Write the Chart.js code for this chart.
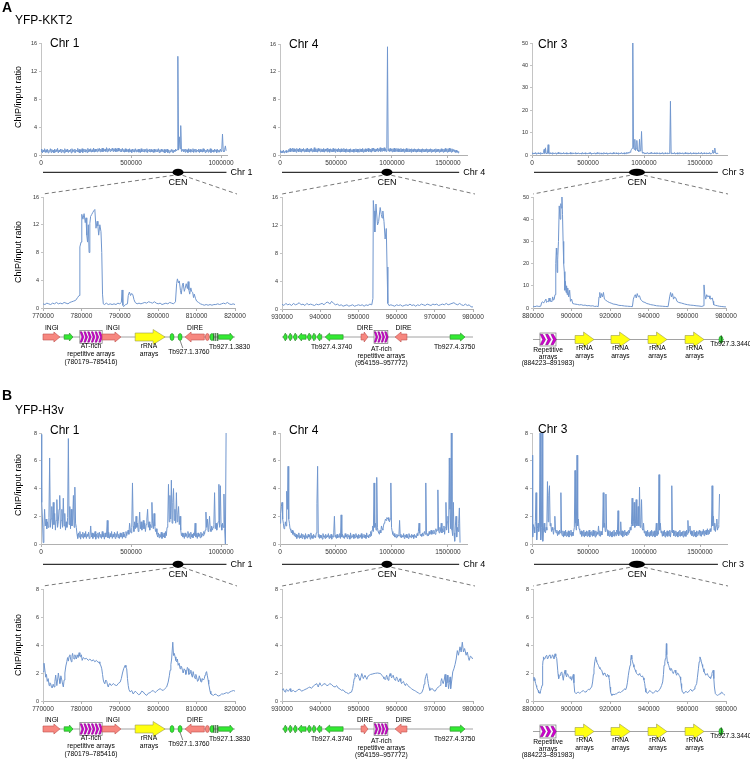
<!DOCTYPE html>
<html><head><meta charset="utf-8">
<script src="https://cdn.jsdelivr.net/npm/chart.js@4.4.1/dist/chart.umd.min.js"></script>
<style>
html,body{margin:0;padding:0;background:#fff;}
#wrap{position:relative;width:750px;height:759px;overflow:hidden;font-family:"Liberation Sans",Arial,sans-serif;color:#000;background:#fff;}
canvas{position:absolute;left:0;top:0;}
.t{position:absolute;white-space:nowrap;line-height:1;}
svg{position:absolute;left:0;top:0;}
</style></head><body><div id="wrap"><svg id="svg" width="750" height="759"></svg></div>
<script>
// ---------------- DATA ----------------
const TICKS_Y16=[0,4,8,12,16];
const TICKS_Y50=[0,10,20,30,40,50];
const TICKS_Y8=[0,2,4,6,8];
const TICKS_CHR1=[0,500000,1000000];
const TICKS_CHR4=[0,500000,1000000,1500000];
const TICKS_CHR3=[0,500000,1000000,1500000];
const TICKS_Z1=[770000,780000,790000,800000,810000,820000];
const TICKS_Z4=[930000,940000,950000,960000,970000,980000];
const TICKS_Z3=[880000,900000,920000,940000,960000,980000];

// genome-wide ChIP/input ratios, one value per bin (bp)
const CHR1_BIN=4000, CHR4_BIN=6000, CHR3_BIN=6000;
const KKT2_CHR1=[0.5,0.85,0.3,0.7,0.45,0.9,0.35,0.75,0.4,0.8,0.3,0.65,0.5,0.9,0.35,0.8,0.45,0.7,0.3,0.85,
0.4,0.75,0.5,0.95,0.3,0.7,0.45,0.85,0.35,0.8,0.5,0.7,0.3,0.9,0.4,0.75,0.45,0.85,0.35,0.7,
0.5,0.8,0.3,0.9,0.45,0.75,0.4,0.85,0.35,0.7,0.5,0.95,0.4,0.8,0.3,0.75,0.45,0.9,0.35,0.8,
0.5,0.85,0.4,0.75,0.35,0.95,0.45,0.8,0.5,0.9,0.4,0.75,0.45,1.0,0.4,0.85,0.5,0.8,0.45,0.9,
0.55,0.95,0.45,0.85,0.5,1.0,0.45,0.9,0.55,0.85,0.5,1.05,0.45,0.9,0.55,0.95,0.5,0.85,0.6,1.0,
0.5,0.9,0.55,0.95,0.45,0.85,0.5,1.0,0.55,0.9,0.5,0.85,0.45,0.95,0.5,0.8,0.4,0.9,0.45,0.85,
0.5,0.8,0.4,0.9,0.45,0.75,0.35,0.85,0.5,0.8,0.4,0.9,0.45,0.75,0.5,0.85,0.4,0.8,0.35,0.9,
0.45,0.75,0.5,0.85,0.4,0.8,0.45,0.9,0.35,0.75,0.5,0.85,0.4,0.8,0.45,0.7,0.35,0.85,0.4,0.75,
0.5,0.8,0.45,0.9,0.35,0.75,0.4,0.85,0.5,0.7,0.4,0.8,0.3,0.75,0.45,0.85,0.35,0.7,0.3,0.65,
0.45,0.8,0.4,0.75,0.35,0.7,0.5,0.85,0.6,0.75,14.1,0.7,2.6,0.9,4.2,0.5,0.6,0.85,0.45,0.8,
0.4,0.85,0.5,0.75,0.35,0.9,0.45,0.8,0.4,0.75,0.5,0.9,0.35,0.8,0.45,0.85,0.4,0.7,0.5,0.85,
0.35,0.8,0.45,0.75,0.4,0.9,0.5,0.8,0.35,0.7,0.45,0.85,0.4,0.75,0.5,0.9,0.35,0.8,0.45,0.7,
0.4,0.85,0.5,0.75,0.35,0.8,0.45,0.7,0.4,0.85,0.5,0.75,3.0,0.6,0.45,0.8,1.3,0.6];
const KKT2_CHR4=[0.4,0.65,0.3,0.55,0.35,0.7,0.3,0.5,0.4,0.65,0.35,0.6,0.45,0.8,0.5,0.95,0.45,0.85,0.55,1.0,
0.45,0.9,0.5,0.8,0.4,0.95,0.55,0.85,0.45,1.0,0.5,0.9,0.4,0.85,0.55,0.95,0.45,0.8,0.5,0.9,
0.45,1.0,0.5,0.85,0.4,0.9,0.55,0.95,0.45,0.8,0.5,1.05,0.45,0.85,0.5,0.9,0.4,0.95,0.55,0.85,
0.45,0.9,0.5,0.8,0.45,0.95,0.4,0.85,0.55,0.9,0.45,1.0,0.5,0.85,0.4,0.9,0.5,0.8,0.45,0.95,
0.5,0.85,0.4,0.9,0.55,0.8,0.45,0.95,0.5,0.85,0.4,0.9,0.45,0.8,0.5,0.95,0.45,0.85,0.4,0.9,
0.5,0.8,0.45,0.85,0.4,0.9,0.5,0.75,0.45,0.85,0.4,0.8,0.5,0.9,0.45,0.85,0.4,0.8,0.45,0.9,
0.5,0.85,0.45,0.95,0.4,0.8,0.5,0.9,0.45,0.85,0.55,0.95,0.45,0.9,0.5,0.85,0.4,0.95,0.55,1.0,
0.5,0.9,0.45,0.85,0.55,1.0,0.5,0.9,0.6,1.05,0.5,0.95,0.55,1.0,0.6,1.05,0.55,0.9,0.5,0.95,
15.6,0.6,0.9,0.5,0.95,0.55,0.85,0.45,0.9,0.5,1.0,0.45,0.85,0.55,0.95,0.5,0.9,0.45,0.85,0.5,
0.95,0.45,0.85,0.5,0.9,0.4,0.85,0.5,0.95,0.45,0.8,0.5,0.9,0.45,0.85,0.4,0.9,0.5,0.8,0.45,
0.9,0.5,0.85,0.4,0.8,0.45,0.9,0.5,0.85,0.45,0.8,0.4,0.9,0.5,0.85,0.45,0.8,0.5,0.9,0.4,
0.85,0.45,0.8,0.5,0.9,0.4,0.85,0.45,0.75,0.5,0.85,0.4,0.9,0.45,0.8,0.5,0.85,0.4,0.8,0.45,
0.9,0.5,0.8,0.4,0.85,0.45,0.95,0.5,0.8,0.4,0.9,0.45,1.0,0.5,0.85,0.4,0.9,0.45,0.8,0.5,
0.75,0.35,0.7,0.4,0.6,0.3,0.55];
const KKT2_CHR3=[0.6,1.0,0.4,0.9,0.5,1.1,0.4,0.8,0.6,1.0,0.5,0.9,0.4,1.1,0.6,0.8,0.5,1.0,2.5,0.7,
3.2,0.8,0.5,0.9,4.6,0.7,0.5,1.0,0.6,0.9,0.4,1.1,0.5,0.8,0.6,1.0,0.4,0.9,0.6,1.2,
0.5,0.9,0.6,1.0,0.4,0.8,0.5,1.1,0.6,0.9,0.5,1.0,0.4,0.9,0.6,0.8,0.5,1.1,0.4,0.9,
0.6,1.0,0.5,0.8,0.6,1.1,0.4,0.9,0.5,1.0,0.6,0.8,0.5,0.9,0.4,1.1,0.6,0.9,0.5,1.0,
0.4,0.9,0.6,0.8,0.5,1.0,0.6,1.1,0.4,0.9,0.5,0.8,0.6,1.0,0.5,0.9,0.4,1.1,0.6,0.8,
0.5,1.0,0.6,0.9,0.4,0.8,0.5,1.1,0.6,0.9,0.5,1.0,0.4,0.9,0.6,0.8,0.5,1.0,0.6,0.9,
0.4,1.1,0.5,0.8,0.6,1.0,0.5,0.9,0.4,1.0,0.6,0.8,0.5,1.1,0.6,0.9,0.5,1.0,0.4,0.8,
0.6,1.2,0.7,1.1,0.8,1.3,1.2,1.8,2.5,3.0,50,3.5,2.5,7.0,2.0,2.8,6.5,1.8,2.2,1.5,
7.0,1.8,2.0,10.5,1.2,0.8,1.1,0.6,1.0,0.5,0.9,0.7,1.1,0.6,0.9,0.5,1.0,0.6,1.2,0.7,
0.9,0.6,1.0,0.5,0.9,0.6,1.1,0.5,0.8,0.6,1.0,0.4,0.9,0.6,1.1,0.5,0.8,0.6,1.0,0.5,
0.9,0.6,1.0,0.5,0.8,0.7,24,0.6,1.0,0.5,0.9,0.6,1.1,0.5,0.9,0.6,1.0,0.4,0.8,0.6,
1.1,0.5,0.9,0.6,1.0,0.5,0.8,0.6,1.1,0.5,0.9,0.6,1.0,0.4,0.9,0.6,1.1,0.5,0.8,0.6,
1.0,0.5,0.9,0.6,1.0,0.4,0.9,0.6,1.1,0.5,0.8,0.6,1.2,0.5,0.9,0.6,1.0,0.5,0.9,0.6,
1.0,0.5,0.9,0.6,1.1,0.5,0.8,0.6,1.0,2.2,0.7,1.2,3.1,0.8,0.9,0.6,0.8,0.5];
const H3V_CHR1=[7.9,3.0,1.8,0.1,1.2,2.5,1.3,1.8,1.1,1.6,1.2,1.9,6.2,1.2,1.8,2.7,1.1,3.0,1.4,2.2,
1.0,1.7,3.2,1.2,1.6,2.5,3.5,1.1,1.7,2.5,1.2,3.3,1.3,2.2,1.0,1.6,1.2,1.9,7.6,1.4,
2.7,1.1,2.5,1.3,1.8,3.5,1.2,4.1,1.5,1.2,0.7,0.4,0.8,0.5,0.9,0.35,0.7,0.5,0.85,0.4,
0.75,0.5,0.9,0.4,0.7,0.55,0.85,0.4,0.6,1.3,0.5,0.8,0.4,0.75,0.5,0.9,0.35,0.7,0.5,0.8,
0.4,0.85,0.5,0.7,0.4,0.9,0.5,0.75,0.35,0.8,0.5,0.7,1.7,0.45,0.85,0.4,0.75,0.5,0.9,0.4,
0.7,0.5,0.85,0.4,0.75,0.5,0.9,0.45,0.7,0.4,0.8,0.5,0.75,0.4,0.85,0.5,0.7,0.45,0.9,0.6,
0.8,1.0,0.7,1.5,1.0,0.8,1.2,4.4,1.3,0.9,1.6,1.1,2.0,1.2,1.5,0.9,1.4,2.3,1.1,1.6,
1.0,1.3,1.7,1.1,1.5,0.9,1.4,1.8,2.5,1.2,1.6,1.0,1.4,1.2,3.0,1.5,1.1,2.2,1.3,0.9,
1.1,0.7,0.5,0.8,0.45,0.7,0.5,0.85,0.4,0.75,0.5,0.8,0.45,0.9,0.6,1.2,1.5,4.3,1.6,3.5,
1.8,4.6,1.5,3.0,4.0,1.7,2.5,1.5,3.7,1.6,2.1,2.7,1.4,2.0,1.0,0.6,0.8,0.5,0.75,0.4,
0.8,0.55,0.7,0.45,0.9,0.5,0.75,0.4,0.85,0.5,0.7,0.45,0.8,0.6,1.5,0.5,0.75,0.4,0.8,0.55,
0.7,0.45,0.85,0.5,0.75,0.6,0.9,0.7,1.0,2.3,1.2,1.8,0.9,1.3,2.0,1.1,0.9,1.3,1.0,1.2,
1.4,3.7,1.1,1.5,1.0,1.3,1.6,4.3,1.2,4.2,1.4,1.0,1.5,1.2,3.6,1.1,0.0,8.0];
const H3V_CHR4=[1.5,2.2,2.7,3.0,1.8,1.5,1.1,1.2,1.6,1.3,3.8,2.5,5.6,1.8,1.5,1.1,1.0,0.8,1.0,0.7,
0.9,0.6,0.8,0.5,0.7,0.4,0.65,0.5,0.8,0.4,0.6,0.45,0.75,0.4,0.7,0.5,0.6,0.35,0.75,0.45,
0.6,0.4,0.7,0.5,0.65,0.35,0.8,0.45,0.6,0.4,0.7,0.5,0.6,0.45,0.8,2.9,5.6,0.5,0.7,0.4,
0.65,0.45,0.6,0.35,0.75,0.5,0.6,0.4,0.7,0.45,0.6,0.5,0.75,0.4,0.6,0.45,0.7,0.35,0.6,0.5,
0.8,2.0,0.5,0.65,0.4,0.7,0.45,0.6,0.5,0.75,0.4,2.1,0.5,0.7,0.45,0.6,0.4,0.75,0.5,0.65,
0.4,0.7,0.5,0.6,0.35,0.8,0.45,0.6,0.5,0.7,0.4,0.65,0.45,0.75,0.5,0.6,0.4,0.7,0.45,0.65,
0.5,0.75,0.4,0.6,0.5,0.7,0.45,0.65,0.4,0.8,0.5,0.6,0.45,0.7,0.55,0.9,0.6,1.0,1.3,0.9,
4.4,1.2,1.5,1.0,4.8,1.2,0.9,0.8,0.7,1.0,0.8,1.3,1.1,1.0,1.3,1.5,1.6,1.8,1.7,1.9,
1.8,1.9,1.7,1.6,1.8,4.4,1.2,0.9,0.7,0.6,0.75,0.5,0.6,0.45,0.7,0.5,0.65,0.6,1.7,0.5,
0.7,0.45,0.6,0.5,0.75,0.4,0.65,0.5,0.7,0.45,0.6,0.4,0.75,0.5,0.6,0.45,0.7,0.5,0.65,0.4,
0.7,0.5,0.6,0.45,0.75,0.6,0.9,1.5,0.8,0.6,0.7,0.55,0.8,0.6,0.75,0.9,0.7,4.4,0.8,0.6,
0.75,0.6,0.9,0.7,0.8,1.0,0.7,0.9,0.75,1.0,0.8,0.7,1.1,0.9,1.0,3.9,1.0,0.8,1.2,0.9,
1.5,0.8,1.1,0.9,1.3,0.7,1.2,3.0,1.0,1.6,2.0,0.8,6.2,2.5,1.1,8.0,1.0,0.6,3.0,0.8,
0.2,1.3,2.0,0.5,1.2,0.9,1.5,2.6,0.1];
const H3V_CHR3=[6.4,0.5,1.4,1.2,0.8,1.6,3.7,0.3,1.1,1.5,0.9,1.3,8.0,0.3,1.2,8.0,0.2,1.0,1.5,0.9,
0.8,1.2,1.0,4.5,1.6,3.5,4.2,1.3,1.5,0.9,1.2,1.0,0.7,1.1,2.0,0.9,0.8,1.0,0.6,0.9,
0.7,1.0,0.8,3.7,0.8,0.6,0.95,0.5,0.9,0.6,1.0,0.55,0.85,0.6,0.95,0.5,0.9,0.65,1.0,0.55,
0.85,0.6,0.9,1.2,5.3,1.5,1.0,6.4,1.3,1.8,1.1,1.0,0.7,0.95,0.55,0.9,0.6,1.0,0.5,0.85,
0.6,0.95,0.55,0.9,0.6,1.0,0.5,0.85,0.65,0.9,0.55,1.0,0.6,0.9,0.5,0.95,0.6,0.85,0.7,1.3,
0.6,0.95,0.55,0.9,0.65,1.0,3.7,1.2,1.5,0.9,3.6,1.1,1.0,0.6,0.9,0.55,0.95,0.6,0.85,0.5,
0.9,0.6,1.0,0.55,0.85,0.6,1.0,0.7,2.4,0.6,0.9,0.7,1.6,0.6,0.95,0.5,0.9,0.6,1.0,0.65,
0.85,0.6,0.9,0.7,1.0,0.8,1.2,1.0,1.4,3.3,1.3,1.6,3.0,1.2,1.5,3.2,1.3,1.4,2.7,1.3,
4.1,1.2,1.4,3.2,1.1,1.0,1.5,0.8,0.95,0.6,0.9,0.55,1.0,0.6,0.85,0.5,0.9,0.6,1.0,0.55,
0.9,0.6,0.95,0.5,0.85,1.5,0.6,0.9,0.7,5.0,1.0,1.5,0.8,0.95,0.55,0.9,0.6,1.0,0.5,0.85,
0.6,0.95,0.55,0.9,0.6,1.0,0.5,0.9,4.2,0.8,1.0,0.6,0.9,0.55,0.95,0.6,0.85,0.5,0.9,0.6,
1.0,0.55,0.85,0.6,0.9,0.5,0.95,0.6,0.9,0.55,1.0,0.7,1.7,0.8,1.0,1.3,0.7,0.95,0.6,0.9,
0.55,1.0,0.6,0.85,0.5,0.95,0.6,0.9,0.7,1.0,0.6,0.95,0.55,0.9,0.7,1.05,0.6,0.95,0.7,1.0,
0.65,1.1,0.7,1.0,0.75,1.1,0.9,1.2,4.2,1.3,2.0,1.0,1.5,0.9,1.3,1.8,1.0,1.2,1.4,3.6];

// centromere close-ups: [position (kb), ratio]
const KKT2_CHR1_CEN=[[770.0,0.6],[770.5,0.5],[771.0,0.7],[771.5,0.6],[772.0,0.5],[772.5,0.7],[773.0,0.6],[773.5,0.8],[774.0,0.6],[774.5,0.7],[775.0,0.6],[775.5,0.8],[776.0,0.7],[776.5,0.6],[777.0,0.8],[777.5,0.9],[778.0,1.0],[778.5,1.1],[779.0,1.5],[779.4,1.8],[779.6,8.8],[779.9,9.5],[780.1,13.5],[780.4,12.8],[780.7,13.6],[781.0,12.3],[781.2,13.0],[781.4,10.5],[781.6,9.5],[781.8,12.0],[782.0,8.0],[782.2,12.2],[782.4,13.2],[782.7,13.5],[783.0,13.8],[783.2,14.0],[783.5,14.2],[783.8,11.5],[784.1,12.5],[784.3,11.8],[784.5,10.5],[784.8,12.0],[785.1,11.0],[785.3,8.0],[785.5,2.0],[785.7,0.6],[786.0,0.5],[786.5,0.7],[787.0,0.5],[787.5,0.6],[788.0,0.5],[788.5,0.6],[789.0,0.5],[789.5,0.7],[790.0,0.6],[790.4,0.8],[790.6,2.6],[790.8,0.4],[791.0,0.2],[791.5,0.5],[792.0,0.6],[792.2,1.8],[792.5,2.3],[792.8,1.8],[793.1,2.1],[793.4,1.9],[793.7,1.2],[794.0,0.8],[794.5,0.6],[795.0,0.7],[795.5,0.6],[796.0,0.7],[796.5,0.8],[797.0,0.7],[797.5,0.9],[798.0,0.8],[798.5,0.7],[799.0,0.9],[799.5,0.7],[800.0,0.6],[800.5,0.7],[801.0,0.5],[801.5,0.6],[802.0,0.7],[802.5,0.6],[803.0,0.8],[803.5,0.7],[804.0,0.6],[804.5,0.9],[804.8,3.5],[805.0,4.2],[805.3,3.6],[805.5,3.9],[805.8,2.5],[806.0,2.0],[806.3,3.3],[806.5,3.6],[806.8,2.4],[807.0,2.8],[807.3,3.5],[807.6,2.8],[807.8,3.8],[808.0,2.6],[808.2,2.0],[808.5,2.9],[808.7,2.4],[809.0,2.2],[809.2,1.5],[809.4,2.0],[809.7,1.4],[810.0,1.0],[810.5,0.8],[811.0,0.6],[811.5,0.5],[812.0,0.4],[812.5,0.5],[813.0,0.4],[813.5,0.5],[814.0,0.4],[814.5,0.5],[815.0,0.5],[815.5,0.6],[816.0,0.5],[816.5,0.6],[817.0,0.7],[817.5,0.6],[818.0,0.8],[818.5,0.6],[819.0,0.5],[819.5,0.6],[820.0,0.5]];
const KKT2_CHR4_CEN=[[930.0,0.7],[930.5,0.5],[931.0,0.8],[931.5,0.6],[932.0,0.7],[932.5,0.5],[933.0,0.8],[933.5,0.6],[934.0,0.7],[934.5,0.9],[935.0,0.6],[935.5,0.7],[936.0,0.5],[936.5,0.8],[937.0,0.6],[937.5,0.7],[938.0,0.6],[938.5,0.5],[939.0,0.7],[939.5,0.6],[940.0,0.7],[940.5,0.8],[941.0,0.6],[941.5,0.9],[942.0,1.0],[942.5,0.7],[943.0,1.1],[943.5,0.8],[944.0,0.6],[944.5,0.7],[945.0,0.5],[945.5,0.6],[946.0,0.4],[946.5,0.5],[947.0,0.6],[947.5,0.4],[948.0,0.5],[948.5,0.6],[949.0,0.4],[949.5,0.5],[950.0,0.6],[950.5,0.5],[951.0,0.6],[951.5,0.4],[952.0,0.6],[952.5,0.5],[953.0,0.7],[953.5,0.6],[953.8,1.5],[953.9,15.5],[954.1,14.0],[954.3,11.0],[954.6,15.0],[955.0,12.0],[955.3,12.5],[955.7,14.5],[956.0,13.5],[956.2,13.0],[956.4,14.0],[956.7,12.5],[957.0,10.0],[957.3,11.5],[957.5,6.0],[957.7,0.8],[958.0,0.5],[958.5,0.6],[959.0,0.5],[959.5,0.4],[960.0,0.6],[960.5,0.5],[961.0,0.6],[961.5,0.4],[962.0,0.5],[962.5,0.6],[963.0,0.5],[963.5,0.7],[964.0,0.5],[964.5,0.6],[965.0,0.4],[965.5,0.6],[966.0,0.5],[966.5,0.7],[967.0,0.6],[967.5,0.5],[968.0,0.7],[968.5,0.6],[969.0,0.5],[969.5,0.7],[970.0,0.6],[970.5,0.7],[971.0,0.5],[971.5,0.6],[972.0,0.7],[972.5,0.6],[973.0,0.8],[973.5,0.6],[974.0,0.7],[974.5,0.8],[975.0,0.9],[975.5,0.7],[976.0,0.6],[976.5,0.8],[977.0,0.6],[977.5,0.5],[978.0,0.7],[978.5,0.5],[979.0,0.6],[979.5,0.3],[980.0,0.3]];
const KKT2_CHR3_CEN=[[880,0.8],[881,0.6],[882,0.9],[883,0.7],[884,0.8],[884.5,2.5],[885,2.8],[885.5,2.2],[886,3.0],[886.7,4.0],[887,2.5],[887.5,3.0],[888,2.8],[888.3,4.5],[888.8,3.0],[889.3,3.2],[889.8,2.8],[890.2,5.0],[890.6,3.5],[891,4.0],[891.4,6.0],[891.8,20],[892.1,27],[892.3,24],[892.5,16],[892.8,22],[893.2,30],[893.6,46],[894,40],[894.4,47],[894.7,45],[895,50],[895.3,42],[895.6,30],[895.9,20],[896.2,16.4],[896.5,8],[896.8,12],[897.1,7],[897.4,10],[897.7,6],[898,9],[898.5,5],[899,8],[899.4,3],[900,4],[900.6,2],[901.5,1.8],[903,1.6],[904,1.4],[905,1.5],[906,1.2],[907,1.3],[908,1.0],[909,1.1],[910,0.9],[911,1.0],[912,0.7],[913,0.8],[913.8,0.6],[914.2,5.0],[914.6,7.0],[915,4.5],[915.5,6.5],[916,5.0],[916.5,7.0],[917,4.0],[917.7,3.5],[918.5,3.0],[919.5,2.5],[920.5,2.2],[921.5,1.8],[923,1.6],[924.5,1.2],[926,1.1],[927.5,0.9],[929,0.8],[930.5,0.7],[931.5,0.6],[932,4.0],[932.5,5.2],[933,6.0],[933.5,4.5],[934,6.5],[934.6,5.0],[935.2,5.5],[935.7,4.0],[936.1,3.5],[937,2.8],[938,2.5],[939,2.0],[940,1.8],[941,1.5],[942.5,1.3],[944,1.0],[945.5,0.9],[947,0.8],[948.5,0.7],[950,0.6],[950.8,5.0],[951.3,7.0],[951.8,5.0],[952.3,6.5],[952.8,4.0],[953.4,5.0],[954,4.5],[954.6,3.0],[955.5,2.5],[957,2.2],[958.5,1.8],[960,1.5],[961.5,1.3],[963,1.2],[964.5,1.0],[966,0.9],[967.5,0.7],[968.3,1.0],[968.6,10.4],[969.0,6.0],[969.5,4.0],[970,6.0],[970.6,5.0],[971.2,5.5],[971.7,4.2],[972.2,4.0],[972.9,4.5],[973.3,3.0],[973.6,1.5],[974.5,1.2],[975.5,1.0],[976.5,0.8],[977.5,0.7],[978.5,0.6],[979.5,0.5],[980,0.5]];
const H3V_CHR1_CEN=[[770.0,2.1],[770.26,2.7],[770.5,2.2],[770.7,1.7],[770.9,1.9],[771.1,1.4],[771.35,1.6],[771.6,1.1],[771.8,1.3],[772.0,1.25],[772.2,1.0],[772.4,0.93],[772.65,1.2],[772.9,1.0],[773.1,1.4],[773.3,1.85],[773.6,1.1],[773.8,1.5],[774.0,2.0],[774.2,1.6],[774.4,1.25],[774.65,1.8],[774.9,1.5],[775.1,1.2],[775.3,1.0],[775.5,1.5],[775.7,2.0],[775.95,2.5],[776.2,2.8],[776.4,3.1],[776.6,2.85],[776.8,3.2],[777.0,3.3],[777.2,3.0],[777.4,2.8],[777.55,3.2],[777.7,3.4],[777.9,3.1],[778.1,3.0],[778.3,3.3],[778.5,3.15],[778.7,3.0],[778.9,3.3],[779.15,3.1],[779.4,3.45],[779.6,3.2],[779.8,3.15],[780.0,3.3],[780.2,2.9],[780.5,3.1],[780.9,3.0],[781.3,3.05],[781.8,2.9],[782.2,3.0],[782.7,2.85],[783.1,2.95],[783.5,2.8],[783.9,2.9],[784.4,2.75],[784.6,2.8],[784.8,2.67],[785.1,2.5],[785.3,2.3],[785.5,1.9],[785.7,1.5],[785.9,1.3],[786.1,1.25],[786.35,1.5],[786.6,1.4],[786.8,1.15],[787.0,1.0],[787.2,1.2],[787.4,1.25],[787.8,1.1],[788.3,1.25],[788.7,1.15],[789.2,1.1],[789.6,1.25],[790.1,1.35],[790.4,1.6],[790.7,2.0],[791.0,2.3],[791.4,2.55],[791.6,2.4],[791.8,2.3],[792.0,1.6],[792.2,1.1],[792.4,0.8],[792.7,0.65],[793.1,0.75],[793.5,0.5],[794.0,0.7],[794.4,0.6],[794.9,0.45],[795.3,0.5],[795.7,0.7],[796.1,0.65],[796.5,0.5],[797.0,0.4],[797.4,0.55],[797.9,0.6],[798.3,0.7],[798.7,0.75],[799.2,0.6],[799.6,0.7],[800.0,0.8],[800.5,0.88],[800.9,0.8],[801.3,0.75],[801.8,0.9],[802.2,1.0],[802.6,1.35],[802.9,1.8],[803.1,2.2],[803.3,2.6],[803.5,3.0],[803.8,4.2],[804.0,3.25],[804.2,3.4],[804.4,3.15],[804.6,2.9],[804.8,2.8],[805.0,3.0],[805.2,2.55],[805.45,2.7],[805.7,2.3],[805.9,2.5],[806.1,2.45],[806.3,2.2],[806.5,2.0],[806.75,2.3],[807.0,2.2],[807.2,1.9],[807.4,2.1],[807.6,2.4],[807.8,2.3],[808.0,1.9],[808.3,2.0],[808.5,2.2],[808.7,1.85],[808.9,1.7],[809.1,2.1],[809.35,1.8],[809.6,1.6],[809.8,1.9],[810.0,1.7],[810.25,1.4],[810.5,1.5],[810.7,1.8],[810.9,1.6],[811.1,1.4],[811.3,1.35],[811.55,1.6],[811.8,1.5],[812.0,1.6],[812.2,1.85],[812.4,2.0],[812.6,2.1],[812.8,1.8],[813.0,1.5],[813.15,1.2],[813.3,1.0],[813.5,0.7],[813.7,0.5],[814.0,0.45],[814.4,0.4],[814.8,0.5],[815.2,0.45],[815.6,0.35],[816.1,0.4],[816.5,0.5],[817.0,0.5],[817.4,0.55],[817.8,0.6],[818.2,0.55],[818.7,0.65],[819.1,0.7],[819.6,0.75],[820.0,0.7]];
const H3V_CHR4_CEN=[[930.0,0.76],[930.35,0.88],[930.6,0.7],[930.8,0.64],[931.0,0.8],[931.2,0.84],[931.45,0.72],[931.7,0.7],[931.9,0.8],[932.1,0.88],[932.3,0.7],[932.5,0.64],[932.75,0.75],[933.0,0.76],[933.4,0.65],[933.8,0.7],[934.2,0.82],[934.7,0.84],[935.1,0.7],[935.6,0.76],[936.0,0.82],[936.5,0.88],[936.9,0.95],[937.3,1.0],[937.7,0.9],[938.2,1.07],[938.6,1.15],[939.1,1.24],[939.3,1.1],[939.5,1.0],[939.7,1.2],[939.9,1.3],[940.1,1.15],[940.4,1.07],[940.8,1.2],[941.3,1.24],[941.7,1.1],[942.1,1.12],[942.5,1.25],[943.0,1.17],[943.4,1.05],[943.9,1.0],[944.3,1.1],[944.7,0.93],[945.2,0.85],[945.6,0.76],[946.0,0.8],[946.5,0.64],[946.9,0.6],[947.4,0.52],[947.8,0.6],[948.2,0.64],[948.5,0.9],[948.7,1.24],[948.9,1.6],[949.1,1.96],[949.3,1.8],[949.5,1.72],[949.75,1.9],[950.0,1.84],[950.2,1.6],[950.4,1.48],[950.65,1.7],[950.9,1.96],[951.1,1.75],[951.3,1.6],[951.5,1.75],[951.7,1.84],[951.95,1.7],[952.2,1.55],[952.4,1.7],[952.6,1.8],[952.9,1.85],[953.2,1.9],[953.6,1.92],[954.1,1.96],[954.5,1.98],[955.0,2.0],[955.4,1.98],[955.8,1.96],[956.1,1.85],[956.5,1.72],[956.7,1.6],[957.0,1.55],[957.2,1.7],[957.4,1.84],[957.6,1.65],[957.8,1.48],[958.0,1.7],[958.3,1.96],[958.5,1.8],[958.7,1.65],[958.9,1.75],[959.1,1.84],[959.35,1.6],[959.6,1.48],[959.8,1.6],[960.0,1.72],[960.25,1.55],[960.5,1.36],[960.7,1.5],[960.9,1.6],[961.1,1.4],[961.3,1.24],[961.55,1.35],[961.8,1.4],[962.0,1.25],[962.2,1.12],[962.4,1.2],[962.6,1.24],[963.0,1.1],[963.3,1.0],[963.6,0.95],[963.9,0.88],[964.3,0.8],[964.6,0.76],[965.0,0.7],[965.3,0.64],[965.7,0.58],[966.0,0.52],[966.3,0.55],[966.6,0.6],[967.0,0.88],[967.2,1.2],[967.4,1.48],[967.6,1.75],[967.9,1.96],[968.1,1.6],[968.3,1.24],[968.5,0.95],[968.7,0.76],[969.0,0.85],[969.4,0.88],[969.7,0.75],[970.1,0.7],[970.5,0.88],[970.9,1.0],[971.2,1.05],[971.4,1.12],[971.6,1.4],[971.8,1.6],[972.0,1.35],[972.2,1.24],[972.45,1.5],[972.7,1.9],[972.9,1.0],[973.1,1.4],[973.3,1.84],[973.45,1.3],[973.6,0.88],[973.8,1.3],[974.0,1.72],[974.1,1.2],[974.2,0.88],[974.45,1.5],[974.7,2.08],[975.0,2.3],[975.3,2.6],[975.6,3.0],[975.9,3.6],[976.2,3.27],[976.6,3.87],[976.9,3.5],[977.2,4.2],[977.5,3.5],[977.8,3.75],[978.2,3.27],[978.5,3.5],[978.8,3.1],[979.0,2.9],[979.3,3.2],[979.6,3.15],[979.9,3.0]];
const H3V_CHR3_CEN=[[880.2,1.48],[880.5,1.7],[880.7,1.6],[881.0,1.45],[881.4,1.24],[881.7,1.1],[881.9,1.0],[882.2,0.85],[882.6,0.76],[882.9,0.6],[883.3,0.64],[883.6,0.55],[884.0,0.76],[884.3,0.9],[884.7,1.12],[885.0,2.55],[885.2,2.9],[885.4,3.15],[885.8,3.0],[886.2,3.03],[886.6,3.2],[887.1,3.27],[887.5,3.0],[887.9,3.08],[888.3,3.25],[888.8,3.3],[889.2,3.05],[889.7,3.1],[890.1,3.3],[890.5,3.2],[890.9,3.0],[891.4,3.37],[891.8,3.2],[892.3,3.03],[892.8,2.2],[893.0,1.9],[893.3,1.6],[893.6,1.75],[894.0,1.84],[894.4,2.0],[894.9,2.08],[895.3,1.8],[895.7,1.48],[896.1,1.9],[896.6,2.2],[897.0,1.9],[897.4,1.72],[897.8,1.95],[898.3,1.84],[898.7,1.7],[899.2,1.6],[899.6,1.75],[900.0,1.48],[900.5,1.7],[900.9,1.9],[901.2,1.3],[901.6,0.64],[901.9,0.58],[902.3,0.52],[902.9,0.6],[903.5,0.64],[904.1,0.55],[904.7,0.6],[905.4,0.7],[906.1,0.74],[906.8,0.65],[907.5,0.64],[908.1,0.75],[908.7,0.84],[909.3,0.8],[909.9,0.93],[910.4,1.0],[910.9,1.36],[911.3,1.9],[911.6,2.3],[912.0,2.8],[912.5,3.15],[912.8,2.9],[913.0,2.8],[913.5,2.65],[913.9,2.55],[914.3,2.4],[914.7,2.3],[915.2,2.25],[915.6,2.2],[916.0,2.0],[916.4,1.84],[916.8,2.0],[917.3,1.96],[917.7,1.8],[918.2,1.72],[918.6,1.9],[919.0,1.84],[919.3,1.7],[919.6,1.48],[919.9,1.0],[920.2,0.64],[920.5,0.5],[920.9,0.4],[921.4,0.5],[922.0,0.45],[922.7,0.5],[923.4,0.52],[924.0,0.6],[924.7,0.64],[925.4,0.6],[926.1,0.7],[926.8,0.75],[927.5,0.88],[928.0,0.8],[928.5,1.0],[928.9,1.3],[929.4,1.84],[929.8,2.2],[930.3,2.55],[930.6,2.9],[930.9,3.27],[931.2,3.0],[931.6,2.8],[932.0,2.6],[932.3,2.43],[932.7,2.3],[933.0,2.2],[933.3,2.1],[933.7,1.96],[934.1,1.9],[934.6,1.84],[935.0,1.95],[935.4,1.9],[935.8,1.8],[936.3,1.72],[936.7,1.8],[937.2,1.65],[937.5,1.5],[937.9,1.24],[938.2,0.9],[938.5,0.64],[939.1,0.55],[939.8,0.6],[940.4,0.75],[941.0,0.7],[941.6,0.6],[942.3,0.55],[943.0,0.65],[943.7,0.76],[944.3,0.65],[944.9,0.7],[945.5,0.8],[946.1,0.93],[946.6,1.1],[947.2,1.36],[947.6,1.9],[947.9,2.55],[948.3,2.8],[948.6,3.03],[948.9,3.4],[949.1,4.1],[949.3,3.3],[949.6,2.8],[949.9,2.7],[950.3,2.55],[950.6,2.4],[951.0,2.2],[951.4,2.35],[951.8,2.3],[952.2,2.1],[952.7,1.96],[953.1,2.1],[953.6,2.2],[954.0,2.0],[954.4,1.84],[954.9,2.0],[955.3,1.96],[955.8,1.8],[956.2,1.72],[956.5,1.5],[956.7,1.24],[957.0,0.9],[957.4,0.64],[957.8,0.6],[958.2,0.55],[958.7,0.62],[959.3,0.7],[959.9,0.6],[960.5,0.64],[961.1,0.75],[961.7,0.84],[962.4,0.7],[963.1,0.76],[963.5,0.85],[963.9,1.0],[964.3,1.1],[964.8,1.24],[965.2,1.7],[965.7,2.3],[966.1,2.8],[966.5,3.15],[966.9,3.0],[967.2,2.84],[967.6,2.6],[967.9,2.43],[968.2,2.3],[968.6,2.08],[969.0,2.0],[969.5,1.84],[969.9,1.9],[970.3,1.96],[970.8,1.8],[971.2,1.72],[971.7,1.65],[972.1,1.6],[972.4,1.8],[972.7,1.96],[973.0,2.1],[973.4,2.2],[973.7,1.6],[974.0,1.0],[974.5,0.52],[975.0,0.45],[975.5,0.4],[976.2,0.45],[976.9,0.52],[977.4,0.6],[977.8,0.64],[978.2,0.55],[978.6,0.52],[979.1,0.45],[979.5,0.4]];

// chromosome lengths and centromere positions (bp)
const CHR_LEN={chr1:1030000,chr4:1600000,chr3:1660000};
const CEN_POS={chr1:761000,chr4:955000,chr3:937000};

// ---------------- DRAWING ----------------
Chart.defaults.font.family='"Liberation Sans", Arial, sans-serif';
const wrap=document.getElementById('wrap');
const svg=document.getElementById('svg');
const LINE='#7096ce';
const YW=20, XH=14;

function binned(vals,bin){return vals.map((v,i)=>({x:i*bin,y:v}));}
function kbPairs(arr){return arr.map(p=>({x:p[0]*1000,y:p[1]}));}

function makeChart(p){
  const cv=document.createElement('canvas');cv.width=750;cv.height=759;
  wrap.appendChild(cv);
  return new Chart(cv,{type:'line',
    data:{datasets:[{data:p.points,borderColor:LINE,borderWidth:1,pointRadius:0,tension:0,fill:false}]},
    options:{responsive:false,animation:false,devicePixelRatio:1,events:[],
      layout:{padding:{left:p.L-YW,top:p.T,right:750-p.R,bottom:759-p.B-XH}},
      plugins:{legend:{display:false},tooltip:{enabled:false},title:{display:false}},
      scales:{
        x:{type:'linear',min:p.xmin,max:p.xmax,
          afterBuildTicks:s=>{s.ticks=p.xt.map(v=>({value:v}));},
          afterFit:s=>{s.height=XH;s.paddingLeft=0;s.paddingRight=0;},
          grid:{display:true,drawOnChartArea:false,drawTicks:true,tickLength:3,color:'#b0b0b0'},
          border:{display:true,color:'#b0b0b0',width:1},
          ticks:{autoSkip:false,maxRotation:0,minRotation:0,padding:1,color:'#333',font:{size:6.5},callback:v=>String(v)}},
        y:{type:'linear',min:0,max:p.ymax,
          afterBuildTicks:s=>{s.ticks=p.yt.map(v=>({value:v}));},
          afterFit:s=>{s.width=YW;s.paddingTop=0;s.paddingBottom=0;},
          grid:{display:true,drawOnChartArea:false,drawTicks:true,tickLength:2,color:'#c4c4c4'},
          border:{display:true,color:'#c4c4c4',width:1},
          ticks:{padding:2,color:'#333',font:{size:5.5},callback:v=>String(v)}}
      }}});
}

const P=[
 {L:41,R:227,T:43,B:155,xmin:0,xmax:1033000,ymax:16,yt:TICKS_Y16,xt:TICKS_CHR1,points:binned(KKT2_CHR1,CHR1_BIN)},
 {L:280,R:467,T:44,B:155,xmin:0,xmax:1670000,ymax:16,yt:TICKS_Y16,xt:TICKS_CHR4,points:binned(KKT2_CHR4,CHR4_BIN)},
 {L:532,R:727,T:43,B:155,xmin:0,xmax:1741000,ymax:50,yt:TICKS_Y50,xt:TICKS_CHR3,points:binned(KKT2_CHR3,CHR3_BIN)},
 {L:43,R:235,T:197,B:308,xmin:770000,xmax:820000,ymax:16,yt:TICKS_Y16,xt:TICKS_Z1,points:kbPairs(KKT2_CHR1_CEN)},
 {L:282,R:473,T:197,B:309,xmin:930000,xmax:980000,ymax:16,yt:TICKS_Y16,xt:TICKS_Z4,points:kbPairs(KKT2_CHR4_CEN)},
 {L:533,R:726,T:197,B:308,xmin:880000,xmax:980000,ymax:50,yt:TICKS_Y50,xt:TICKS_Z3,points:kbPairs(KKT2_CHR3_CEN)},
 {L:41,R:227,T:433,B:544,xmin:0,xmax:1033000,ymax:8,yt:TICKS_Y8,xt:TICKS_CHR1,points:binned(H3V_CHR1,CHR1_BIN)},
 {L:280,R:467,T:433,B:544,xmin:0,xmax:1670000,ymax:8,yt:TICKS_Y8,xt:TICKS_CHR4,points:binned(H3V_CHR4,CHR4_BIN)},
 {L:532,R:727,T:433,B:544,xmin:0,xmax:1741000,ymax:8,yt:TICKS_Y8,xt:TICKS_CHR3,points:binned(H3V_CHR3,CHR3_BIN)},
 {L:43,R:235,T:589,B:701,xmin:770000,xmax:820000,ymax:8,yt:TICKS_Y8,xt:TICKS_Z1,points:kbPairs(H3V_CHR1_CEN)},
 {L:282,R:473,T:589,B:701,xmin:930000,xmax:980000,ymax:8,yt:TICKS_Y8,xt:TICKS_Z4,points:kbPairs(H3V_CHR4_CEN)},
 {L:533,R:726,T:589,B:701,xmin:880000,xmax:980000,ymax:8,yt:TICKS_Y8,xt:TICKS_Z3,points:kbPairs(H3V_CHR3_CEN)}
];
const charts=P.map(makeChart);

// ---- text helpers ----
function addText(s,x,y,size,align,extra){
  const d=document.createElement('div');d.className='t';d.textContent=s;
  d.style.fontSize=size+'px';d.style.top=(y-size*0.5)+'px';d.style.left=x+'px';
  if(align==='center')d.style.transform='translateX(-50%)';
  if(extra)Object.assign(d.style,extra);
  wrap.appendChild(d);return d;
}
function vText(s,x,y,size){
  const d=document.createElement('div');d.className='t';d.textContent=s;
  d.style.fontSize=size+'px';d.style.left=x+'px';d.style.top=y+'px';
  d.style.transform='translate(-50%,-50%) rotate(-90deg)';
  wrap.appendChild(d);
}
const NS='http://www.w3.org/2000/svg';
function el(tag,a){const e=document.createElementNS(NS,tag);for(const k in a)e.setAttribute(k,a[k]);svg.appendChild(e);return e;}

// panel labels
addText('A',2,7,14,'left',{fontWeight:'bold'});
addText('YFP-KKT2',15,20,12);
addText('B',2,395,14,'left',{fontWeight:'bold'});
addText('YFP-H3v',15,410,12);
[[50,43],[289,44],[538,44]].forEach((q,i)=>addText(['Chr 1','Chr 4','Chr 3'][i],q[0],q[1],12));
[[50,430],[289,430],[538,429]].forEach((q,i)=>addText(['Chr 1','Chr 4','Chr 3'][i],q[0],q[1],12));
[97,252,485,645].forEach(y=>vText('ChIP/input ratio',18,y,9));

// chromosome ideograms
function chromo(g,z,len,cen,rx,label,y){
  const xs=v=>g.scales.x.getPixelForValue(v);
  const x0=xs(0)+2,x1=xs(len),cx=xs(cen);
  el('line',{x1:x0,y1:y,x2:x1,y2:y,stroke:'#000','stroke-width':1});
  el('ellipse',{cx:cx,cy:y,rx:rx,ry:3.6,fill:'#000'});
  addText(label,x1+4,y,9);
  addText('CEN',cx,y+10.5,9,'center');
  const za=z.chartArea;
  el('line',{x1:cx-rx+1,y1:y+3,x2:za.left,y2:za.top-3,stroke:'#555','stroke-width':0.8,'stroke-dasharray':'4,3'});
  el('line',{x1:cx+rx-1,y1:y+3,x2:za.right+2,y2:za.top-3,stroke:'#555','stroke-width':0.8,'stroke-dasharray':'4,3'});
}
[0,1].forEach(r=>{
  const y=172.3+r*392, o=r*6;
  chromo(charts[o],charts[o+3],CHR_LEN.chr1,CEN_POS.chr1,5.5,'Chr 1',y);
  chromo(charts[o+1],charts[o+4],CHR_LEN.chr4,CEN_POS.chr4,5.5,'Chr 4',y);
  chromo(charts[o+2],charts[o+5],CHR_LEN.chr3,CEN_POS.chr3,8,'Chr 3',y);
});

// gene annotation tracks (genomic coordinates in kb)
const STY={pink:{f:'#f7877f',s:'#c0504d',bh:6,hh:10,hl:6},
           green:{f:'#33ea33',s:'#238a23',bh:4.5,hh:8,hl:4.5},
           yellow:{f:'#ffff10',s:'#9a9a50',bh:8,hh:15,hl:12}};
const GENES_CHR1=[
 {t:'arrow',a:770.0,b:774.4,d:1,c:'pink'},{t:'arrow',a:775.5,b:777.8,d:1,c:'green'},
 {t:'rep',a:779.6,b:785.4,n:6},{t:'arrow',a:785.4,b:790.3,d:1,c:'pink'},
 {t:'arrow',a:794.0,b:801.8,d:1,c:'yellow'},{t:'oval',a:803.6,c:'green'},{t:'oval',a:805.7,c:'green'},
 {t:'arrow',a:807.0,b:812.0,d:-1,c:'pink'},{t:'oval',a:812.8,c:'pink'},
 {t:'oval',a:814.0,c:'green'},{t:'bar',a:814.5},{t:'bar',a:815.0},{t:'bar',a:815.5},
 {t:'arrow',a:815.7,b:819.6,d:1,c:'green'}];
const LABELS_CHR1=[['INGI',772.3,-9],['INGI',788.2,-9],['DIRE',809.6,-9],['AT-rich',782.5,9],['repetitive arrays',782.5,17],['(780179–785416)',782.5,25.5],
 ['rRNA',797.6,9],['arrays',797.6,17],['Tb927.1.3760',808.0,15],['Tb927.1.3830',818.6,10]];
const GENES_CHR4=[
 {t:'arrow',a:930.3,b:931.3,d:-1,c:'green'},{t:'arrow',a:931.6,b:932.6,d:-1,c:'green'},{t:'arrow',a:932.9,b:933.9,d:-1,c:'green'},
 {t:'arrow',a:934.2,b:936.3,d:-1,c:'green'},{t:'arrow',a:936.5,b:937.6,d:-1,c:'green'},{t:'arrow',a:937.8,b:938.8,d:-1,c:'green'},
 {t:'arrow',a:939.1,b:940.4,d:-1,c:'green'},{t:'arrow',a:941.3,b:946.0,d:-1,c:'green',big:true},
 {t:'arrow',a:950.7,b:952.5,d:1,c:'pink'},{t:'rep',a:954.1,b:957.7,n:4},{t:'arrow',a:959.6,b:962.7,d:-1,c:'pink'},
 {t:'arrow',a:974.0,b:977.9,d:1,c:'green',big:true}];
const LABELS_CHR4=[['DIRE',951.7,-9],['DIRE',961.8,-9],['Tb927.4.3740',943.0,10],['AT-rich',956.0,12],['repetitive arrays',956.0,19],['(954159–957772)',956.0,26],['Tb927.4.3750',975.2,10]];
const GENES_CHR3=[
 {t:'rep',a:883.6,b:891.9,n:3},{t:'arrow',a:901.8,b:911.6,d:1,c:'yellow'},{t:'arrow',a:920.4,b:930.3,d:1,c:'yellow'},
 {t:'arrow',a:939.6,b:949.4,d:1,c:'yellow'},{t:'arrow',a:958.8,b:968.6,d:1,c:'yellow'},
 {t:'oval',a:977.4,c:'green'},{t:'bar',a:977.6}];
const LABELS_CHR3=[['Repetitive',887.8,11],['arrays',887.8,17.5],['(884223–891983)',887.8,24],
 ['rRNA',906.7,9],['arrays',906.7,16.5],['rRNA',925.3,9],['arrays',925.3,16.5],['rRNA',944.5,9],['arrays',944.5,16.5],
 ['rRNA',963.7,9],['arrays',963.7,16.5],['Tb927.3.3440',982.5,5]];

function track(ch,genes,labels,y,endKb){
  const xs=kb=>ch.scales.x.getPixelForValue(kb*1000);
  const ca=ch.chartArea;
  el('line',{x1:ca.left,y1:y,x2:endKb?xs(endKb):ca.right,y2:y,stroke:'#8a8a8a','stroke-width':0.8});
  genes.forEach(g=>{
    if(g.t==='arrow'){
      const st=STY[g.c];let a=xs(g.a),b=xs(g.b),len=b-a;
      let bh=st.bh,hh=st.hh,hl=Math.min(st.hl,len*0.55);
      if(g.c==='green'&&!g.big){hl=Math.min(len*0.6,3.5);}
      let pts;
      if(g.d>0)pts=[[a,y-bh/2],[b-hl,y-bh/2],[b-hl,y-hh/2],[b,y],[b-hl,y+hh/2],[b-hl,y+bh/2],[a,y+bh/2]];
      else pts=[[b,y-bh/2],[a+hl,y-bh/2],[a+hl,y-hh/2],[a,y],[a+hl,y+hh/2],[a+hl,y+bh/2],[b,y+bh/2]];
      el('polygon',{points:pts.map(p=>p.join(',')).join(' '),fill:st.f,stroke:st.s,'stroke-width':0.6});
    }else if(g.t==='rep'){
      const a=xs(g.a),b=xs(g.b),w=(b-a)/g.n;
      el('rect',{x:a,y:y-6.5,width:b-a,height:13,fill:'#fff',stroke:'#777','stroke-width':0.7});
      for(let i=0;i<g.n;i++){
        const xa=a+i*w+0.3;const top=y-5.2,bot=y+5.2;
        const pts=[[xa,top],[xa+w*0.45,top],[xa+w,y],[xa+w*0.45,bot],[xa,bot],[xa+w*0.45,y]];
        el('polygon',{points:pts.map(p=>p.join(',')).join(' '),fill:'#d000d0',stroke:'#7a007a','stroke-width':0.5});
      }
    }else if(g.t==='oval'){
      const st=STY[g.c];
      el('ellipse',{cx:xs(g.a),cy:y,rx:2,ry:3.5,fill:st.f,stroke:st.s,'stroke-width':0.6});
    }else if(g.t==='bar'){
      el('line',{x1:xs(g.a),y1:y-4,x2:xs(g.a),y2:y+4,stroke:'#225522','stroke-width':1});
    }
  });
  labels.forEach(l=>addText(l[0],xs(l[1]),y+l[2],6.7,'center'));
}
[0,1].forEach(r=>{
  const o=r*6+3, y=337+r*392;
  track(charts[o],GENES_CHR1,LABELS_CHR1,y);
  track(charts[o+1],GENES_CHR4,LABELS_CHR4,y);
  track(charts[o+2],GENES_CHR3,LABELS_CHR3,y+2.5,979);
  const xs=kb=>charts[o].scales.x.getPixelForValue(kb*1000);
  el('line',{x1:xs(805.7),y1:y+3.5,x2:xs(806.4),y2:y+11,stroke:'#333','stroke-width':0.6});
});
</script></body></html>
